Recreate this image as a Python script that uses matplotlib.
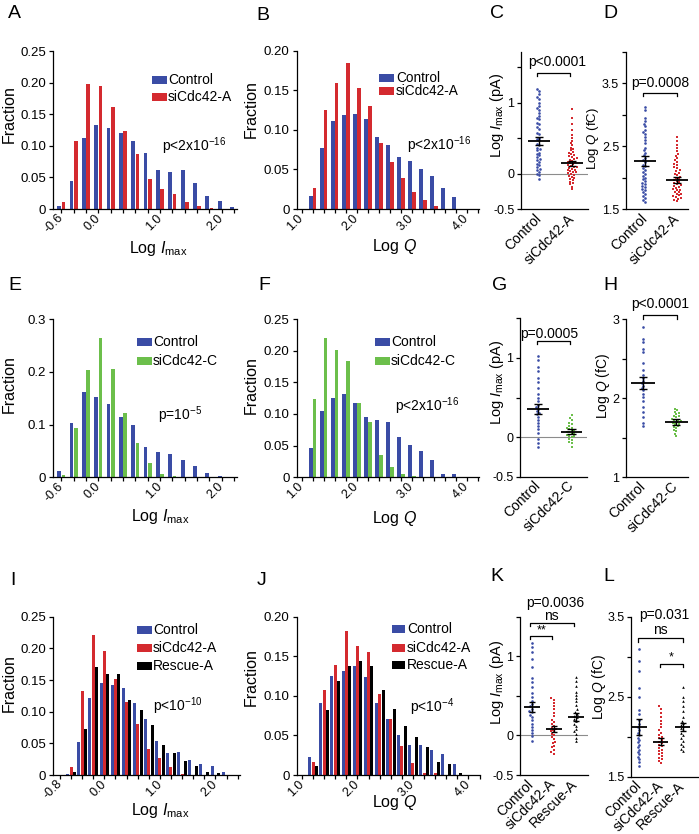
import numpy as np
import matplotlib
matplotlib.use('Agg')
import matplotlib.pyplot as plt
from matplotlib.patches import Rectangle

plt.rcParams['font.family'] = ['Liberation Sans', 'DejaVu Sans']
plt.rcParams['mathtext.fontset'] = 'custom'
plt.rcParams['mathtext.rm'] = 'Liberation Sans'
plt.rcParams['mathtext.it'] = 'Liberation Sans:italic'
plt.rcParams['mathtext.bf'] = 'Liberation Sans:bold'

# ---------------- histogram data ----------------
imax_bins = [-0.6, -0.4, -0.2, 0.0, 0.2, 0.4, 0.6, 0.8, 1.0, 1.2, 1.4, 1.6, 1.8, 2.0, 2.2]
q_bins = [1.2, 1.4, 1.6, 1.8, 2.0, 2.2, 2.4, 2.6, 2.8, 3.0, 3.2, 3.4, 3.6, 3.8]

a_ctrl = [0.005, 0.045, 0.113, 0.133, 0.128, 0.121, 0.107, 0.088, 0.062, 0.058, 0.062, 0.041, 0.021, 0.013, 0.003]
a_si = [0.011, 0.107, 0.197, 0.194, 0.162, 0.123, 0.087, 0.047, 0.031, 0.024, 0.011, 0.004, 0.001, 0.0, 0.0]

b_ctrl = [0.016, 0.077, 0.111, 0.119, 0.120, 0.114, 0.091, 0.081, 0.066, 0.061, 0.051, 0.042, 0.027, 0.015]
b_si = [0.027, 0.125, 0.159, 0.184, 0.153, 0.130, 0.084, 0.060, 0.039, 0.021, 0.011, 0.004, 0.0, 0.0]

e_ctrl = [0.012, 0.103, 0.161, 0.153, 0.138, 0.114, 0.100, 0.058, 0.047, 0.044, 0.033, 0.021, 0.009, 0.003, 0.0]
e_si = [0.005, 0.094, 0.204, 0.264, 0.205, 0.121, 0.065, 0.028, 0.007, 0.002, 0.0, 0.0, 0.0, 0.0, 0.0]

f_ctrl = [0.047, 0.104, 0.125, 0.132, 0.118, 0.096, 0.090, 0.087, 0.064, 0.051, 0.042, 0.028, 0.006, 0.005]
f_si = [0.123, 0.220, 0.201, 0.183, 0.118, 0.088, 0.036, 0.016, 0.006, 0.002, 0.0, 0.0, 0.0, 0.0]

i_ctrl = [0.002, 0.052, 0.122, 0.146, 0.142, 0.137, 0.113, 0.089, 0.054, 0.034, 0.036, 0.024, 0.018, 0.014, 0.004]
i_si = [0.012, 0.133, 0.221, 0.196, 0.151, 0.116, 0.080, 0.041, 0.027, 0.012, 0.002, 0.0, 0.0, 0.0, 0.0]
i_resc = [0.004, 0.073, 0.171, 0.159, 0.159, 0.118, 0.103, 0.079, 0.047, 0.034, 0.022, 0.014, 0.005, 0.003, 0.0]

j_ctrl = [0.023, 0.091, 0.125, 0.131, 0.138, 0.124, 0.091, 0.071, 0.050, 0.038, 0.038, 0.031, 0.027, 0.014]
j_si = [0.016, 0.108, 0.139, 0.182, 0.163, 0.156, 0.102, 0.071, 0.037, 0.015, 0.003, 0.002, 0.0, 0.0]
j_resc = [0.011, 0.082, 0.119, 0.138, 0.144, 0.138, 0.107, 0.083, 0.062, 0.048, 0.035, 0.017, 0.014, 0.002]

# ---------------- scatter data ----------------
c_ctrl = [1.20, 1.17, 1.12, 1.08, 1.05, 1.00, 0.96, 0.92, 0.90, 0.86, 0.81, 0.79, 0.77, 0.72, 0.70,
          0.66, 0.63, 0.58, 0.56, 0.51, 0.49, 0.47, 0.42, 0.40, 0.37, 0.35, 0.33, 0.30, 0.28, 0.26,
          0.23, 0.21, 0.19, 0.16, 0.14, 0.12, 0.09, 0.07, 0.05, 0.02, 0.00, -0.02, -0.08]
c_si = [0.91, 0.78, 0.70, 0.62, 0.55, 0.50, 0.46, 0.43, 0.40, 0.37, 0.35, 0.33, 0.31, 0.30, 0.28,
        0.27, 0.25, 0.24, 0.22, 0.21, 0.20, 0.18, 0.17, 0.16, 0.15, 0.14, 0.12, 0.11, 0.10, 0.09,
        0.08, 0.07, 0.06, 0.05, 0.04, 0.03, 0.02, 0.01, 0.00, -0.01, -0.03, -0.04, -0.06, -0.07,
        -0.09, -0.11, -0.13, -0.15, -0.18, -0.22]
c_mean = [0.46, 0.15]
c_sem = [0.06, 0.035]

d_ctrl = [3.13, 3.08, 2.95, 2.90, 2.86, 2.82, 2.76, 2.73, 2.70, 2.65, 2.60, 2.55, 2.48, 2.44, 2.40,
          2.36, 2.32, 2.28, 2.25, 2.21, 2.18, 2.15, 2.12, 2.09, 2.06, 2.03, 2.00, 1.98, 1.95, 1.92,
          1.90, 1.87, 1.85, 1.82, 1.80, 1.77, 1.74, 1.71, 1.68, 1.65, 1.62]
d_si = [2.65, 2.58, 2.52, 2.47, 2.42, 2.38, 2.35, 2.31, 2.28, 2.25, 2.22, 2.20, 2.17, 2.15, 2.12,
        2.10, 2.08, 2.06, 2.04, 2.02, 2.00, 1.98, 1.97, 1.95, 1.93, 1.92, 1.90, 1.88, 1.87, 1.85,
        1.84, 1.82, 1.81, 1.80, 1.78, 1.77, 1.75, 1.74, 1.72, 1.71, 1.70, 1.68, 1.67, 1.65, 1.63]
d_mean = [2.27, 1.965]
d_sem = [0.077, 0.04]

g_ctrl = [1.02, 0.97, 0.89, 0.83, 0.75, 0.69, 0.62, 0.55, 0.50, 0.45, 0.41, 0.38, 0.36, 0.33, 0.31,
          0.29, 0.26, 0.22, 0.18, 0.14, 0.10, 0.05, -0.02, -0.07, -0.12]
g_si = [0.28, 0.24, 0.21, 0.18, 0.16, 0.14, 0.12, 0.11, 0.10, 0.09, 0.08, 0.07, 0.06, 0.05, 0.04,
        0.03, 0.02, 0.01, 0.00, -0.02, -0.04, -0.06, -0.08, -0.12]
g_mean = [0.35, 0.068]
g_sem = [0.063, 0.03]

h_ctrl = [2.90, 2.75, 2.71, 2.63, 2.58, 2.45, 2.36, 2.30, 2.26, 2.22, 2.19, 2.16, 2.13, 2.10, 2.06,
          2.02, 1.96, 1.89, 1.83, 1.76, 1.69, 1.65]
h_si = [1.87, 1.85, 1.83, 1.81, 1.80, 1.78, 1.77, 1.76, 1.74, 1.73, 1.72, 1.71, 1.70, 1.69, 1.68,
        1.67, 1.65, 1.64, 1.62, 1.60, 1.58, 1.55, 1.52]
h_mean = [2.19, 1.70]
h_sem = [0.077, 0.034]

k_ctrl = [1.17, 1.12, 1.05, 0.97, 0.86, 0.72, 0.67, 0.61, 0.53, 0.49, 0.44, 0.40, 0.37, 0.34, 0.31,
          0.29, 0.26, 0.23, 0.19, 0.15, 0.11, 0.07, 0.03, -0.01, -0.07]
k_si = [0.47, 0.45, 0.41, 0.37, 0.33, 0.28, 0.24, 0.20, 0.17, 0.14, 0.12, 0.10, 0.08, 0.07, 0.05,
        0.04, 0.02, 0.00, -0.02, -0.05, -0.08, -0.10, -0.13, -0.15, -0.18, -0.21, -0.23]
k_resc = [0.74, 0.69, 0.62, 0.55, 0.51, 0.47, 0.43, 0.38, 0.33, 0.30, 0.27, 0.25, 0.23, 0.21, 0.18,
          0.15, 0.12, 0.08, 0.05, 0.02, -0.03, -0.07]
k_mean = [0.36, 0.08, 0.234]
k_sem = [0.068, 0.04, 0.048]

l_ctrl = [3.10, 2.95, 2.82, 2.61, 2.50, 2.34, 2.28, 2.21, 2.16, 2.12, 2.09, 2.05, 2.02, 1.99, 1.96,
          1.93, 1.90, 1.87, 1.84, 1.81, 1.78, 1.75, 1.72, 1.68, 1.64]
l_si = [2.38, 2.35, 2.30, 2.25, 2.20, 2.16, 2.12, 2.08, 2.05, 2.02, 2.00, 1.98, 1.96, 1.94, 1.92,
        1.90, 1.88, 1.86, 1.84, 1.82, 1.80, 1.78, 1.76, 1.74, 1.72, 1.70, 1.67]
l_resc = [2.62, 2.50, 2.45, 2.38, 2.32, 2.25, 2.20, 2.17, 2.15, 2.13, 2.11, 2.08, 2.05, 2.02, 1.98,
          1.95, 1.91, 1.88, 1.85, 1.82]
l_mean = [2.12, 1.94, 2.12]
l_sem = [0.10, 0.04, 0.05]

BLUE = '#3a4ca5'
RED = '#d42a2f'
GREEN = '#6cbf4b'
BLACK = '#000000'

W, H = 699, 834
fig = plt.figure(figsize=(W / 100, H / 100), dpi=100)


def add_ax(l, t, r, b):
    ax = fig.add_axes([l / W, 1 - b / H, (r - l) / W, (b - t) / H])
    for s in ['top', 'right']:
        ax.spines[s].set_visible(False)
    for s in ['left', 'bottom']:
        ax.spines[s].set_linewidth(0.9)
    ax.tick_params(direction='out', length=3.2, width=0.9, labelsize=9.5, pad=2)
    return ax


def ftext(x, y, s, **kw):
    return fig.text(x / W, 1 - y / H, s, **kw)


def legend_px(entries, x0, ys, tx, w=15, h=8, fs=10):
    for (label, color), y in zip(entries, ys):
        fig.patches.append(Rectangle((x0 / W, 1 - (y + h / 2) / H), w / W, h / H,
                                     transform=fig.transFigure, color=color, lw=0))
        ftext(tx, y, label, fontsize=fs, va='center', ha='left')


def hist_panel(rect, bins, series, colors, width, step, xlim, ylim, yticks, ylabels, xticks, xlabeled):
    ax = add_ax(*rect)
    n = len(series)
    for k, (vals, c) in enumerate(zip(series, colors)):
        off = (k - (n - 1) / 2) * step
        ax.bar(np.array(bins) + off, vals, width=width, color=c, linewidth=0)
    ax.set_xlim(xlim)
    ax.set_ylim(ylim)
    ax.set_yticks(yticks)
    ax.set_yticklabels(ylabels)
    ax.set_xticks(xticks)
    labs = [('%.1f' % (t + 0.0)) if any(abs(t - v) < 1e-6 for v in xlabeled) else '' for t in xticks]
    ax.set_xticklabels(labs, rotation=45, ha='right', va='center', rotation_mode='anchor', fontsize=9)
    return ax


def swarm(ax, x0, vals, d):
    pts = ax.transData.transform(np.column_stack([np.full(len(vals), x0), vals]))
    ys = pts[:, 1]
    ppx = ax.transData.transform((1, 0))[0] - ax.transData.transform((0, 0))[0]
    placed = []
    offs = np.zeros(len(vals))
    for i in np.argsort(ys):
        y = ys[i]
        near = [(px, py) for px, py in placed if abs(py - y) < d]
        cands = [0.0]
        for px, py in near:
            dx = np.sqrt(d * d - (py - y) ** 2)
            cands += [px + dx, px - dx]
        cands.sort(key=lambda c: (abs(c), c))
        for c in cands:
            if all((c - px) ** 2 + (y - py) ** 2 >= d * d - 1e-6 for px, py in near):
                offs[i] = c
                placed.append((c, y))
                break
    return offs / ppx


def scatter_panel(rect, groups, colors, markers, xlim, ylim, yticks, ylabels, means, sems, names,
                  hw, cw, zero=False):
    ax = add_ax(*rect)
    ax.tick_params(axis='y', labelsize=9, pad=1.5)
    ax.set_xlim(xlim)
    ax.set_ylim(ylim)
    if zero:
        ax.axhline(0, color='0.55', lw=0.8, zorder=0)
    for i, (vals, c, m) in enumerate(zip(groups, colors, markers)):
        dx = swarm(ax, i, vals, 2.8)
        ax.scatter(i + dx, vals, s=3.6, c=c, marker=m, linewidths=0, zorder=2, clip_on=False)
        ax.hlines(means[i], i - hw, i + hw, color='k', lw=1.3, zorder=3)
        ax.vlines(i, means[i] - sems[i], means[i] + sems[i], color='k', lw=1.0, zorder=3)
        ax.hlines([means[i] - sems[i], means[i] + sems[i]], i - cw, i + cw, color='k', lw=1.0, zorder=3)
    ax.set_yticks(yticks)
    ax.set_yticklabels(ylabels)
    ax.set_xticks(range(len(groups)))
    ax.set_xticklabels(names, rotation=45, ha='right', va='center', rotation_mode='anchor', fontsize=10)
    ax.tick_params(axis='x', length=0, pad=5)
    return ax


def bracket(ax, x0, x1, y, h):
    ax.plot([x0, x0, x1, x1], [y - h, y, y, y - h], color='k', lw=0.9, clip_on=False)


imax_ticks = [round(v, 1) for v in np.arange(-0.6, 2.21, 0.2)]
imax_ticks_i = [round(v, 1) for v in np.arange(-0.8, 2.41, 0.2)]
q_ticks = [round(v, 1) for v in np.arange(1.0, 4.21, 0.2)]
frac25 = [0, 0.05, 0.10, 0.15, 0.20, 0.25]
frac25_l = ['0', '0.05', '0.10', '0.15', '0.20', '0.25']
frac20 = [0, 0.05, 0.10, 0.15, 0.20]
frac20_l = ['0', '0.05', '0.10', '0.15', '0.20']
lab_imax = r'Log $I_{\rm max}$'
lab_q = r'Log $Q$'
lab_imax_pa = r'Log $I_{\rm max}$ (pA)'
lab_q_fc = r'Log $Q$ (fC)'

# ---------- row 1 ----------
hist_panel((53.3, 51, 236.7, 209), imax_bins, [a_ctrl, a_si], [BLUE, RED], 0.06, 0.066,
           (-0.73, 2.243), (0, 0.25), frac25, frac25_l, imax_ticks, [-0.6, 0.0, 1.0, 2.0])
hist_panel((296.7, 50.7, 479, 209), q_bins, [b_ctrl, b_si], [BLUE, RED], 0.064, 0.072,
           (0.909, 4.22), (0, 0.20), frac20, frac20_l, q_ticks, [1.0, 2.0, 3.0, 4.0])
axc = scatter_panel((521, 51.7, 588, 209.3), [c_ctrl, c_si], [BLUE, RED], ['o', 's'],
                    (-0.545, 1.485), (-0.5, 1.72), [-0.5, 0, 0.5, 1, 1.5], ['-0.5', '0', '', '1', ''],
                    c_mean, c_sem, ['Control', 'siCdc42-A'], 0.33, 0.13, zero=True)
bracket(axc, -0.05, 0.95, 1.42, 0.04)
axc.text(0.55, 1.57, 'p<0.0001', ha='center', va='center', fontsize=10)
axd = scatter_panel((625.7, 51.7, 688, 209.3), [d_ctrl, d_si], [BLUE, RED], ['o', 's'],
                    (-0.603, 1.344), (1.5, 4.0), [1.5, 2.0, 2.5, 3.0, 3.5, 4.0],
                    ['1.5', '', '2.5', '', '3.5', ''],
                    d_mean, d_sem, ['Control', 'siCdc42-A'], 0.33, 0.13)
bracket(axd, -0.07, 0.99, 3.35, 0.045)
axd.text(0.49, 3.5, 'p=0.0008', ha='center', va='center', fontsize=10)

# ---------- row 2 ----------
hist_panel((53.3, 319, 236.7, 477.3), imax_bins, [e_ctrl, e_si], [BLUE, GREEN], 0.06, 0.066,
           (-0.73, 2.243), (0, 0.3), [0, 0.1, 0.2, 0.3], ['0', '0.1', '0.2', '0.3'],
           imax_ticks, [-0.6, 0.0, 1.0, 2.0])
hist_panel((296.7, 319, 479, 477.3), q_bins, [f_ctrl, f_si], [BLUE, GREEN], 0.064, 0.072,
           (0.909, 4.22), (0, 0.25), frac25, frac25_l, q_ticks, [1.0, 2.0, 3.0, 4.0])
axg = scatter_panel((520, 318.3, 587, 476.7), [g_ctrl, g_si], [BLUE, GREEN], ['o', 's'],
                    (-0.534, 1.454), (-0.5, 1.5), [-0.5, 0, 0.5, 1, 1.5], ['-0.5', '0', '', '1', ''],
                    g_mean, g_sem, ['Control', 'siCdc42-C'], 0.32, 0.13, zero=True)
bracket(axg, -0.04, 0.95, 1.21, 0.04)
axg.text(0.33, 1.30, 'p=0.0005', ha='center', va='center', fontsize=10)
axh = scatter_panel((625.7, 319.3, 688.3, 477.3), [h_ctrl, h_si], [BLUE, GREEN], ['o', 's'],
                    (-0.524, 1.37), (1, 3), [1, 1.5, 2, 2.5, 3], ['1', '', '2', '', '3'],
                    h_mean, h_sem, ['Control', 'siCdc42-C'], 0.35, 0.13)
bracket(axh, -0.01, 1.02, 3.05, 0.04)
axh.text(0.52, 3.19, 'p<0.0001', ha='center', va='center', fontsize=10)

# ---------- row 3 ----------
hist_panel((53.3, 616.7, 240, 775), imax_bins, [i_ctrl, i_si, i_resc], [BLUE, RED, BLACK], 0.054, 0.06,
           (-0.92, 2.443), (0, 0.25), frac25, frac25_l, imax_ticks_i, [-0.8, 0.0, 1.0, 2.0])
hist_panel((296.7, 616.7, 479.6, 775), q_bins, [j_ctrl, j_si, j_resc], [BLUE, RED, BLACK], 0.054, 0.06,
           (0.905, 4.2), (0, 0.20), frac20, frac20_l, q_ticks, [1.0, 2.0, 3.0, 4.0])
axk = scatter_panel((520, 616.7, 588, 775), [k_ctrl, k_si, k_resc], [BLUE, RED, BLACK], ['o', 's', '^'],
                    (-0.53, 2.56), (-0.5, 1.5), [-0.5, 0, 0.5, 1, 1.5], ['-0.5', '0', '', '1', ''],
                    k_mean, k_sem, ['Control', 'siCdc42-A', 'Rescue-A'], 0.36, 0.14, zero=True)
bracket(axk, -0.08, 1.92, 1.425, 0.04)
bracket(axk, -0.08, 0.91, 1.26, 0.04)
axk.text(1.09, 1.675, 'p=0.0036', ha='center', va='center', fontsize=10)
axk.text(0.91, 1.51, 'ns', ha='center', va='center', fontsize=10)
axk.text(0.47, 1.33, '**', ha='center', va='center', fontsize=9)
axl = scatter_panel((631, 616.7, 698, 776.7), [l_ctrl, l_si, l_resc], [BLUE, RED, BLACK], ['o', 's', '^'],
                    (-0.37, 2.71), (1.5, 3.5), [1.5, 2.0, 2.5, 3.0, 3.5], ['1.5', '', '2.5', '', '3.5'],
                    l_mean, l_sem, ['Control', 'siCdc42-A', 'Rescue-A'], 0.35, 0.14)
bracket(axl, -0.05, 2.01, 3.23, 0.04)
bracket(axl, 0.97, 2.01, 2.91, 0.04)
axl.text(1.15, 3.52, 'p=0.031', ha='center', va='center', fontsize=10)
axl.text(0.97, 3.34, 'ns', ha='center', va='center', fontsize=10)
axl.text(1.49, 2.99, '*', ha='center', va='center', fontsize=9)

# ---------- legends and p-values of histograms ----------
legend_px([('Control', BLUE), ('siCdc42-A', RED)], 151.7, [80, 97], 168)
legend_px([('Control', BLUE), ('siCdc42-A', RED)], 379, [78, 91], 396, fs=9.8)
legend_px([('Control', BLUE), ('siCdc42-C', GREEN)], 136.7, [341.7, 360.7], 153)
legend_px([('Control', BLUE), ('siCdc42-C', GREEN)], 375, [341.7, 360.7], 391)
legend_px([('Control', BLUE), ('siCdc42-A', RED), ('Rescue-A', BLACK)], 136.7, [630, 648.3, 666], 153)
legend_px([('Control', BLUE), ('siCdc42-A', RED), ('Rescue-A', BLACK)], 391.7, [629.3, 647.7, 665], 407,
          w=13.3)

ftext(161.7, 146, r'p<2x10$^{-16}$', fontsize=10, va='center')
ftext(406.7, 145, r'p<2x10$^{-16}$', fontsize=10, va='center')
ftext(158, 415, r'p=10$^{-5}$', fontsize=10, va='center')
ftext(395, 406, r'p<2x10$^{-16}$', fontsize=10, va='center')
ftext(152.7, 705.7, r'p<10$^{-10}$', fontsize=10, va='center')
ftext(410, 706.7, r'p<10$^{-4}$', fontsize=10, va='center')

# ---------- axis labels ----------
for x, y in [(9, 114), (251, 109), (9, 384), (251, 385), (9, 683), (251, 677)]:
    ftext(x, y, 'Fraction', fontsize=11.5, rotation=90, ha='center', va='center')
for x, y in [(497, 115), (497, 382), (497, 682)]:
    ftext(x, y, lab_imax_pa, fontsize=10.5, rotation=90, ha='center', va='center')
for x, y, fs in [(593, 138, 9.5), (603, 386, 10), (599, 687, 10)]:
    ftext(x, y, lab_q_fc, fontsize=fs, rotation=90, ha='center', va='center')
for x, y in [(158, 249), (160, 516), (160, 811)]:
    ftext(x, y, lab_imax, fontsize=11.5, ha='center', va='center')
for x, y in [(395, 247), (395, 518), (395, 803)]:
    ftext(x, y, lab_q, fontsize=11.5, ha='center', va='center')

# ---------- panel letters ----------
for s, x, y in [('A', 8, 5), ('B', 256.7, 6.7), ('C', 490, 5), ('D', 603, 5),
                ('E', 8, 277), ('F', 258, 277), ('G', 492, 277), ('H', 603, 277),
                ('I', 10, 572), ('J', 257, 572), ('K', 490, 568), ('L', 603, 568)]:
    ftext(x, y, s, fontsize=14, va='top', ha='left')

fig.savefig('out.png', dpi=100)
